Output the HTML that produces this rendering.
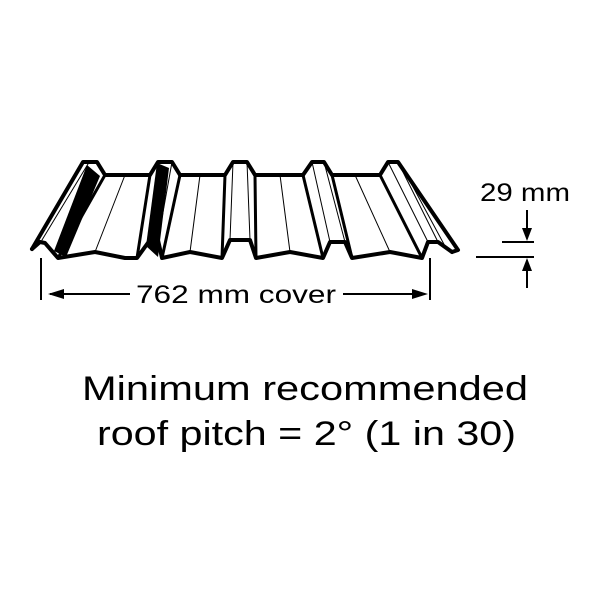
<!DOCTYPE html>
<html><head><meta charset="utf-8"><style>html,body{margin:0;padding:0;background:#fff}svg{display:block}</style></head>
<body>
<svg width="600" height="600" viewBox="0 0 600 600" xmlns="http://www.w3.org/2000/svg">
<rect width="600" height="600" fill="#fff"/>
<g fill="none" stroke="#000" stroke-linejoin="round" stroke-linecap="round">
<polyline stroke-width="4" points="32,249 83,162 97,162 105,175 150,175 158,162 172,162 180,175 225,175 233,162 247,162 255,175 303,175 312,162 324,162 332,175 380,175 388,162 398,162 458,250 452,252"/>
<polyline stroke-width="4" points="32,249 40,242 45,243 58,258 95,252 125,258 137,258 150,240 158,240 162,258 190,252 222,258 230,240 250,240 256,258 290,252 323,258 330,242 345,242 352,258 390,252 422,258 428,242 438,242 452,252"/>
<g stroke-width="3">
<line x1="105" y1="175" x2="58" y2="258"/>
<line x1="150" y1="175" x2="137" y2="258"/>
<line x1="180" y1="175" x2="162" y2="258"/>
<line x1="225" y1="175" x2="222" y2="258"/>
<line x1="255" y1="175" x2="256" y2="258"/>
<line x1="303" y1="175" x2="323" y2="258"/>
<line x1="332" y1="175" x2="352" y2="258"/>
<line x1="380" y1="175" x2="422" y2="258"/>
</g>
<g stroke-width="1">
<line x1="42" y1="240" x2="88" y2="164"/>
<line x1="125" y1="175" x2="95" y2="252"/>
<line x1="158" y1="162" x2="150" y2="240"/>
<line x1="172" y1="162" x2="158" y2="240"/>
<line x1="200" y1="175" x2="190" y2="252"/>
<line x1="233" y1="162" x2="230" y2="240"/>
<line x1="247" y1="162" x2="250" y2="240"/>
<line x1="280" y1="175" x2="290" y2="252"/>
<line x1="312" y1="162" x2="330" y2="242"/>
<line x1="324" y1="162" x2="345" y2="242"/>
<line x1="355" y1="175" x2="390" y2="252"/>
<line x1="388" y1="162" x2="428" y2="242"/>
<line x1="398" y1="162" x2="438" y2="242"/>
<line x1="405" y1="172" x2="446" y2="248"/>
</g>
</g>
<polygon fill="#000" points="87,165 100,176 66,257 54,251"/>
<polygon fill="#000" points="157,163 169,168 158,257 146,246"/>
<g stroke="#000" stroke-width="2" fill="none">
<line x1="41" y1="258" x2="41" y2="300"/>
<line x1="430" y1="258" x2="430" y2="300"/>
<line x1="50" y1="294" x2="130" y2="294"/>
<line x1="343" y1="294" x2="422" y2="294"/>
<line x1="476" y1="257" x2="534" y2="257"/>
<line x1="502" y1="242" x2="534" y2="242"/>
<line x1="527" y1="210" x2="527" y2="236"/>
<line x1="527" y1="264" x2="527" y2="288"/>
</g>
<polygon points="48,294 64,289 64,299" fill="#000"/>
<polygon points="428,294 412,289 412,299" fill="#000"/>
<polygon points="527,241 522,228 532,228" fill="#000"/>
<polygon points="527,258 522,271 532,271" fill="#000"/>
<g font-family="Liberation Sans, sans-serif" fill="#000">
<text x="136" y="303" font-size="25" textLength="200" lengthAdjust="spacingAndGlyphs">762 mm cover</text>
<text x="480" y="201" font-size="25" textLength="90" lengthAdjust="spacingAndGlyphs">29 mm</text>
<text x="82" y="400" font-size="34" textLength="446" lengthAdjust="spacingAndGlyphs">Minimum recommended</text>
<text x="97" y="445" font-size="34" textLength="419" lengthAdjust="spacingAndGlyphs">roof pitch = 2° (1 in 30)</text>
</g>
</svg>
</body></html>
